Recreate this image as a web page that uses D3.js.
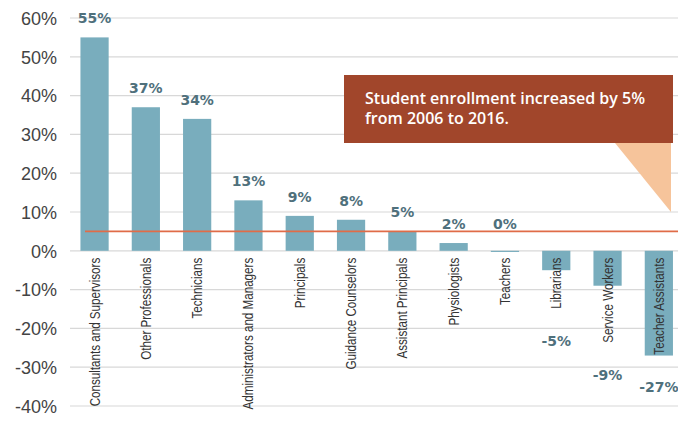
<!DOCTYPE html>
<html>
<head>
<meta charset="utf-8">
<script src="https://cdn.jsdelivr.net/npm/d3@7"></script>
<style>
  body { margin: 0; background: #fff; }
  svg { display: block; }
</style>
</head>
<body>
<div class="chart"></div>
<script>
// data
var categories = ["Consultants and Supervisors", "Other Professionals", "Technicians",
  "Administrators and Managers", "Principals", "Guidance Counselors", "Assistant Principals",
  "Physiologists", "Teachers", "Librarians", "Service Workers", "Teacher Assistants"];
var changes = [55, 37, 34, 13, 9, 8, 5, 2, -0.3, -5, -9, -27];
var valueLabels = ["55%", "37%", "34%", "13%", "9%", "8%", "5%", "2%", "0%", "-5%", "-9%", "-27%"];
var yTicks = [60, 50, 40, 30, 20, 10, 0, -10, -20, -30, -40];
var enrollment = 5;
var note = ["Student enrollment increased by 5%", "from 2006 to 2016."];

var width = 678, height = 427;
var narrow = 0.75; // squeeze for the condensed category font

var svg = d3.select(".chart").append("svg")
    .attr("width", width)
    .attr("height", height);

var y = d3.scaleLinear().domain([-40, 60]).range([406, 18]);
var x = d3.scaleBand().domain(categories)
    .range([68.9, 684.5])
    .paddingInner(0.45)
    .paddingOuter(0.225);

// grid lines
svg.append("g").selectAll("line")
    .data(yTicks)
    .enter().append("line")
    .attr("x1", 70)
    .attr("x2", width)
    .attr("y1", function(d){ return y(d); })
    .attr("y2", function(d){ return y(d); })
    .style("stroke", "#d8d8d8")
    .style("stroke-width", 1.2);

// y axis labels
var yAxis = d3.axisLeft(y).tickValues(yTicks).tickSize(0).tickPadding(0)
    .tickFormat(function(d){ return d + "%"; });
var yg = svg.append("g").attr("transform", "translate(57,0)").call(yAxis);
yg.select(".domain").remove();
yg.selectAll("text")
    .attr("dy", "0.35em")
    .style("font-family", "'Liberation Sans', Arial, sans-serif")
    .style("font-size", "18px")
    .style("fill", "#444");

// bars
svg.append("g").selectAll("rect")
    .data(changes)
    .enter().append("rect")
    .attr("x", function(d, i){ return x(categories[i]); })
    .attr("width", x.bandwidth())
    .attr("y", function(d){ return y(Math.max(0, d)); })
    .attr("height", function(d){ return Math.abs(y(d) - y(0)); })
    .style("fill", "#79adbd");

// enrollment line
svg.append("line")
    .attr("x1", 85)
    .attr("x2", width)
    .attr("y1", y(enrollment))
    .attr("y2", y(enrollment))
    .style("stroke", "#e06c48")
    .style("stroke-width", 1.7);

// category labels, rotated
var catLabels = svg.append("g").selectAll("text")
    .data(categories)
    .enter().append("text")
    .attr("transform", function(d){
        return "translate(" + (x(d) + x.bandwidth() / 2 + 5) + "," + (y(0) + 7) + ") rotate(-90) scale(" + narrow + ",1)";
    })
    .attr("text-anchor", "end")
    .style("font-family", "'Liberation Sans', Arial, sans-serif")
    .style("font-size", "15.5px")
    .style("fill", "#333")
    .text(function(d){ return d; });

// value labels
svg.append("g").selectAll("text")
    .data(changes)
    .enter().append("text")
    .attr("x", function(d, i){ return x(categories[i]) + x.bandwidth() / 2; })
    .attr("y", function(d, i){
        if (d >= 0) return y(d) - 14;
        if (d > -1) return y(0) - 22; // near-zero bar, label sits above axis
        // negative: below the rotated category name
        var len = catLabels.nodes()[i].getComputedTextLength() * narrow;
        return y(0) + 7 + len + 37;
    })
    .attr("text-anchor", "middle")
    .style("font-family", "'DejaVu Sans', sans-serif")
    .style("font-weight", "bold")
    .style("font-size", "14px")
    .style("fill", "#4f707c")
    .text(function(d, i){ return valueLabels[i]; });

// callout box
svg.append("path")
    .attr("d", "M615,143 L671,143 L671,212 Z")
    .style("fill", "#f6c49b");

svg.append("rect")
    .attr("x", 344)
    .attr("y", 75)
    .attr("width", 329)
    .attr("height", 68)
    .style("fill", "#a1462b");

svg.append("g").selectAll("text")
    .data(note)
    .enter().append("text")
    .attr("x", 365)
    .attr("y", function(d, i){ return 104 + i * 20; })
    .style("font-family", "'Open Sans', sans-serif")
    .style("font-weight", "600")
    .style("font-size", "16px")
    .style("fill", "#fff")
    .text(function(d){ return d; });
</script>
</body>
</html>
